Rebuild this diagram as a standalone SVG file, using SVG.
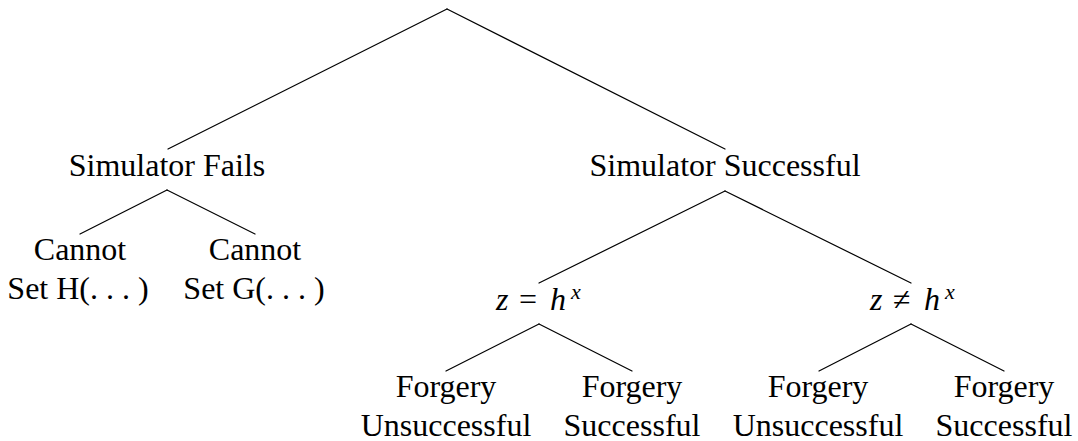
<svg xmlns="http://www.w3.org/2000/svg" width="1078" height="441" viewBox="0 0 1078 441">
<style>
  .t { font-family: "Liberation Serif", "DejaVu Serif", "Noto Serif", "Times New Roman", serif; font-size: 32px; fill: #000; text-anchor: middle; }
  .m { font-family: "Liberation Serif", "DejaVu Serif", "Noto Serif", "Times New Roman", serif; font-size: 32px; fill: #000; }
  .i { font-style: italic; }
  .sup { font-style: italic; font-size: 22px; }
  .edge { stroke: #000; stroke-width: 1.2; fill: none; stroke-linecap: round; }
</style>
<rect width="1078" height="441" fill="#fff"/>
<g id="connectors">
  <line class="edge" x1="447" y1="9" x2="168" y2="149"/>
  <line class="edge" x1="447" y1="9" x2="725" y2="149"/>
  <line class="edge" x1="167" y1="190" x2="80" y2="234"/>
  <line class="edge" x1="167" y1="190" x2="255" y2="234"/>
  <line class="edge" x1="725" y1="191" x2="539" y2="283"/>
  <line class="edge" x1="725" y1="191" x2="911" y2="283"/>
  <line class="edge" x1="539" y1="324" x2="446" y2="371"/>
  <line class="edge" x1="539" y1="324" x2="632" y2="371"/>
  <line class="edge" x1="911" y1="324" x2="819" y2="371"/>
  <line class="edge" x1="911" y1="324" x2="1004" y2="371"/>
</g>
<g id="sim-fails">
  <text class="t" x="167" y="176">Simulator Fails</text>
</g>
<g id="sim-success">
  <text class="t" x="725" y="176">Simulator Successful</text>
</g>
<g id="cannot-h">
  <text class="t" x="80" y="260">Cannot</text>
  <text class="t" x="78" y="299">Set H(. . . )</text>
</g>
<g id="cannot-g">
  <text class="t" x="255" y="260">Cannot</text>
  <text class="t" x="254" y="299">Set G(. . . )</text>
</g>
<g id="z-eq">
  <text class="m" y="310"><tspan class="i" x="496">z</tspan><tspan x="519">=</tspan><tspan class="i" x="550">h</tspan><tspan class="sup" x="571" dy="-11">x</tspan></text>
</g>
<g id="z-neq">
  <text class="m" y="310"><tspan class="i" x="870">z</tspan><tspan x="893">≠</tspan><tspan class="i" x="924">h</tspan><tspan class="sup" x="945" dy="-11">x</tspan></text>
</g>
<g id="forge-unsucc-1">
  <text class="t" x="446" y="397">Forgery</text>
  <text class="t" x="446" y="436">Unsuccessful</text>
</g>
<g id="forge-succ-1">
  <text class="t" x="632" y="397">Forgery</text>
  <text class="t" x="632" y="436">Successful</text>
</g>
<g id="forge-unsucc-2">
  <text class="t" x="818" y="397">Forgery</text>
  <text class="t" x="818" y="436">Unsuccessful</text>
</g>
<g id="forge-succ-2">
  <text class="t" x="1004" y="397">Forgery</text>
  <text class="t" x="1004" y="436">Successful</text>
</g>
</svg>
